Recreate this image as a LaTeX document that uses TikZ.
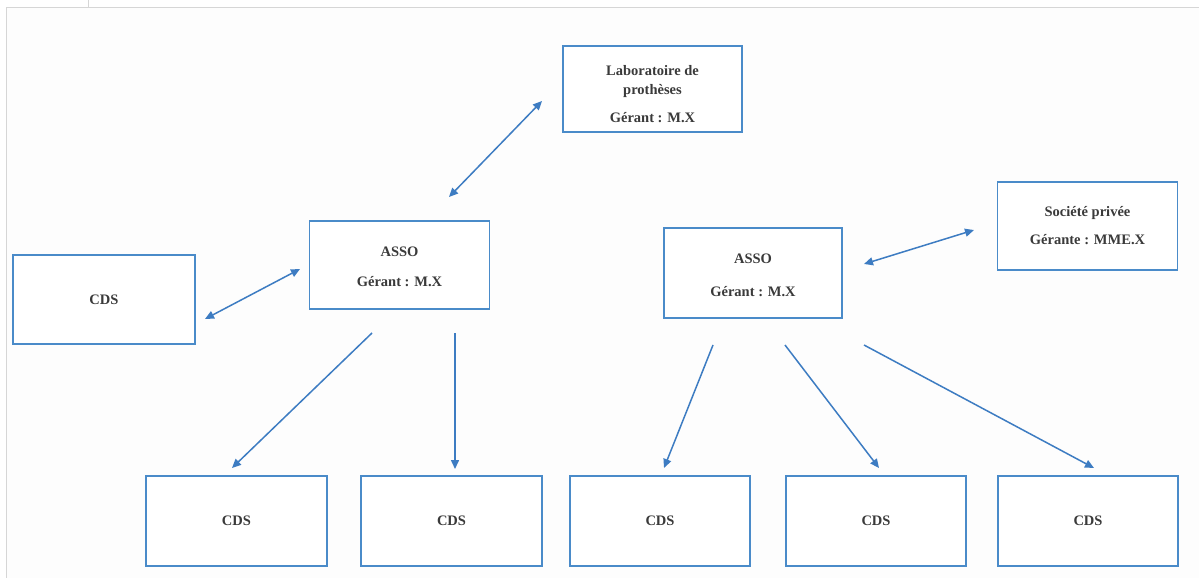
\documentclass[tikz,border=0pt]{standalone}
\usepackage{fontspec}
\setmainfont{Liberation Serif}
\usetikzlibrary{arrows.meta}
\definecolor{boxblue}{HTML}{4A8BC9}
\definecolor{arrblue}{HTML}{3D7CC2}
\definecolor{txtgray}{HTML}{3A3A3A}
\definecolor{framegray}{HTML}{D6D6D6}
\definecolor{bg}{HTML}{FDFDFD}
\tikzset{
  box/.style={draw=boxblue, line width=1.8pt, fill=white, rectangle,
    minimum width=180pt, minimum height=88pt, inner sep=0pt,
    align=center, text=txtgray, font=\fontsize{14.5}{19}\selectfont\bfseries},
  link/.style={draw=arrblue, line width=1.5pt,
    -{Triangle[width=8pt,length=9pt]}},
  dlink/.style={link, {Triangle[width=8pt,length=9pt]}-{Triangle[width=8pt,length=9pt]}},
  frameline/.style={draw=framegray, line width=1pt}
}
\begin{document}
\begin{tikzpicture}[x=1pt,y=-1pt]
\useasboundingbox (0,0) rectangle (1199,578);
\fill[white] (0,0) rectangle (1199,578);
\fill[bg] (6,8) rectangle (1199,578);
\draw[frameline] (6,578) -- (6,8) -- (1199,8);
\draw[frameline] (88,0) -- (88,8);

\node[box, minimum width=179pt, minimum height=86pt] (lab) at (652.5,89) {\rule{0pt}{21pt}Laboratoire de\\prothèses\\[9pt]Gérant : M.X};
\node[box, minimum height=88pt] (soc) at (1087.5,226) {Société privée\\[9pt]Gérante : MME.X};
\node[box] (assoL) at (399.5,265) {\rule{0pt}{13pt}ASSO\\[11pt]Gérant : M.X};
\node[box, minimum width=178pt, minimum height=90pt] (assoR) at (753,273) {\rule{0pt}{14pt}ASSO\\[14pt]Gérant : M.X};
\node[box, minimum width=182pt, minimum height=89pt] (cdsL) at (104,299.5) {CDS};
\node[box, minimum width=181pt, minimum height=90pt] (cds1) at (236.5,521) {CDS};
\node[box, minimum width=181pt, minimum height=90pt] (cds2) at (451.5,521) {CDS};
\node[box, minimum width=180pt, minimum height=90pt] (cds3) at (660,521) {CDS};
\node[box, minimum width=180pt, minimum height=90pt] (cds4) at (876,521) {CDS};
\node[box, minimum width=180pt, minimum height=90pt] (cds5) at (1088,521) {CDS};

% connector end points (connectors float between the boxes)
\coordinate (labA) at (542,101);
\coordinate (assoLA) at (449,197);
\coordinate (assoLB) at (300,269);
\coordinate (cdsLA) at (205,319);
\coordinate (assoRA) at (864,264);
\coordinate (socA) at (974,230);
\coordinate (assoL1) at (372,333);
\coordinate (cds1A) at (232,468);
\coordinate (assoL2) at (455,333);
\coordinate (cds2A) at (455,469);
\coordinate (assoR3) at (713,345);
\coordinate (cds3A) at (664,468);
\coordinate (assoR4) at (785,345);
\coordinate (cds4A) at (879,468);
\coordinate (assoR5) at (864,345);
\coordinate (cds5A) at (1094,468);

\draw[dlink] (assoLA) -- (labA);
\draw[dlink] (cdsLA) -- (assoLB);
\draw[dlink] (assoRA) -- (socA);
\draw[link] (assoL1) -- (cds1A);
\draw[link] (assoL2) -- (cds2A);
\draw[link] (assoR3) -- (cds3A);
\draw[link] (assoR4) -- (cds4A);
\draw[link] (assoR5) -- (cds5A);
\end{tikzpicture}
\end{document}
